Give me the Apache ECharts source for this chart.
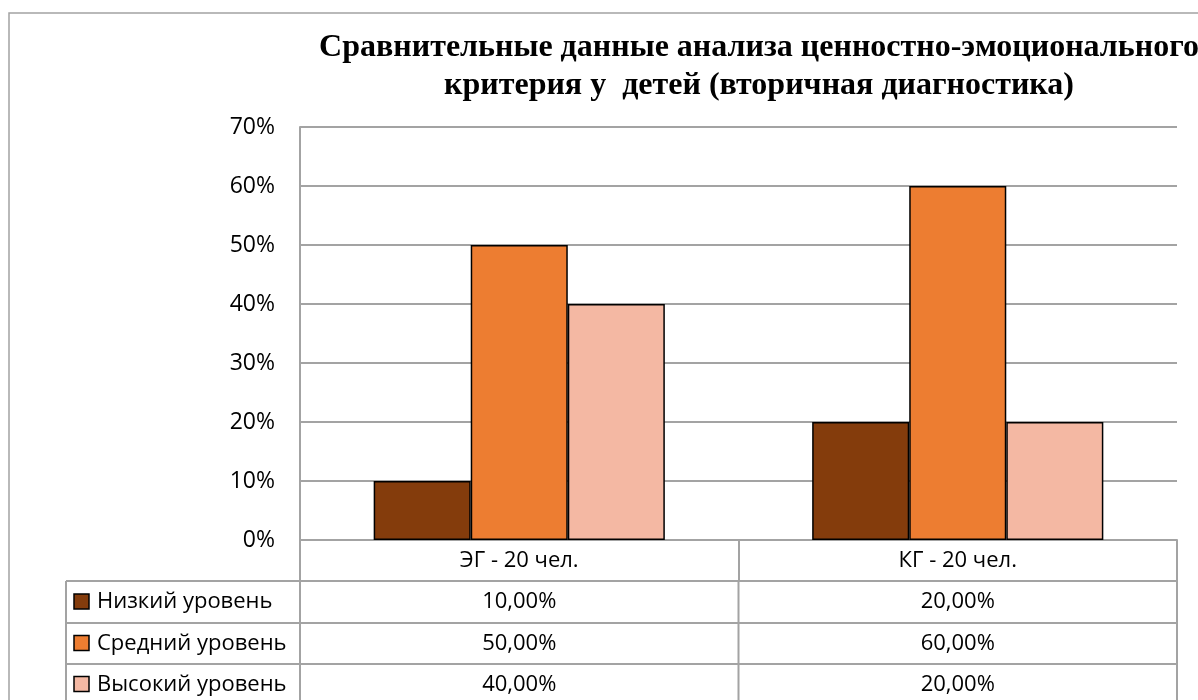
<!DOCTYPE html>
<html>
<head>
<meta charset="utf-8">
<script src="https://cdn.jsdelivr.net/npm/echarts@6/dist/echarts.min.js"></script>
<style>
html,body{margin:0;padding:0;background:#fff;}
#chart{width:1198px;height:700px;}
</style>
</head>
<body>
<div id="chart"></div>
<script>
var categories = ['ЭГ - 20 чел.', 'КГ - 20 чел.'];
var seriesNames = ['Низкий уровень', 'Средний уровень', 'Высокий уровень'];
var lowValues = [0.10, 0.20];
var midValues = [0.50, 0.60];
var highValues = [0.40, 0.20];
var yTicks = [0, 0.1, 0.2, 0.3, 0.4, 0.5, 0.6, 0.7];
var titleText = 'Сравнительные данные анализа ценностно-эмоционального\nкритерия у  детей (вторичная диагностика)';

var colors = ['#843C0C', '#ED7D31', '#F4B8A3'];
var gray = '#a3a3a3';
var sans = '"Open Sans", "Noto Sans", sans-serif';
var fs = 22;
var axisFs = 23;

var seriesValues = [lowValues, midValues, highValues];

function pct(v) { return Math.round(v * 100) + '%'; }
function pct2(v) { return (v * 100).toFixed(2).replace('.', ',') + '%'; }

var chart = echarts.init(document.getElementById('chart'), null, {renderer: 'canvas'});

var gridLeft = 300, gridRight = 21, gridTop = 127, gridBottom = 160;

var option = {
  animation: false,
  backgroundColor: '#fff',
  color: colors,
  title: {
    text: titleText,
    left: 754,
    top: 24,
    textAlign: 'center',
    textStyle: {
      fontFamily: '"Liberation Serif", "Times New Roman", serif',
      fontWeight: 'bold',
      fontSize: 32,
      lineHeight: 38,
      color: '#000'
    }
  },
  grid: {left: gridLeft, right: gridRight, top: gridTop, bottom: gridBottom, containLabel: false},
  xAxis: {
    type: 'category',
    data: categories,
    axisLine: {show: true, lineStyle: {color: gray, width: 2}},
    axisTick: {show: true, length: 41, lineStyle: {color: gray, width: 2}},
    axisLabel: {fontFamily: sans, fontSize: fs, color: '#000', margin: 10},
    splitLine: {show: false}
  },
  yAxis: {
    type: 'value',
    min: yTicks[0],
    max: yTicks[yTicks.length - 1],
    interval: 0.1,
    axisLine: {show: true, lineStyle: {color: gray, width: 2}},
    axisTick: {show: false},
    axisLabel: {fontFamily: sans, fontSize: axisFs, color: '#000', margin: 25, formatter: function (v) { return pct(v); }},
    splitLine: {show: true, lineStyle: {color: gray, width: 2}}
  },
  series: seriesNames.map(function (name, i) {
    return {
      name: name,
      type: 'bar',
      data: seriesValues[i],
      barGap: '0%',
      barCategoryGap: '33.6%',
      itemStyle: {color: colors[i], borderColor: '#000', borderWidth: 1.5}
    };
  })
};

chart.setOption(option);

// Data table (drawn below the axis, text taken from the data arrays)
var rowTops = [581, 623, 664, 705];
var tableLeft = 66;
var plotRight = 1198 - gridRight;
var lineStyle = {stroke: gray, lineWidth: 2};
var g = [];
// outer chart border (clipped by the viewport on the right/bottom)
g.push({type: 'rect', shape: {x: 9, y: 13, width: 1300, height: 800}, style: {fill: null, stroke: gray, lineWidth: 1.5}, silent: true, z: -1});
// horizontal table lines
for (var r = 0; r < rowTops.length; r++) {
  g.push({type: 'line', shape: {x1: tableLeft, y1: rowTops[r], x2: plotRight + 1, y2: rowTops[r]}, style: lineStyle, silent: true});
}
// vertical table lines
var xBounds = [gridLeft];
var half = (plotRight - gridLeft) / categories.length / 2;
for (var c = 0; c < categories.length; c++) {
  var cx = chart.convertToPixel({xAxisIndex: 0}, categories[c]);
  xBounds.push(cx + half);
}
g.push({type: 'line', shape: {x1: tableLeft, y1: rowTops[0], x2: tableLeft, y2: 710}, style: lineStyle, silent: true});
xBounds.forEach(function (xb) {
  g.push({type: 'line', shape: {x1: xb, y1: rowTops[0], x2: xb, y2: 710}, style: lineStyle, silent: true});
});
// legend keys and cell values
for (var s = 0; s < seriesNames.length; s++) {
  var cy = (rowTops[s] + rowTops[s + 1]) / 2;
  g.push({type: 'rect', shape: {x: 74, y: cy - 8, width: 15, height: 15}, style: {fill: colors[s], stroke: '#000', lineWidth: 1.5}, silent: true});
  g.push({type: 'text', x: 97, y: cy, style: {text: seriesNames[s], fontFamily: sans, fontSize: fs, fill: '#000', align: 'left', verticalAlign: 'middle'}, silent: true});
  for (var k = 0; k < categories.length; k++) {
    var px = chart.convertToPixel({xAxisIndex: 0}, categories[k]);
    g.push({
      type: 'text',
      x: px,
      y: cy,
      style: {text: pct2(seriesValues[s][k]), fontFamily: sans, fontSize: fs, fill: '#000', align: 'center', verticalAlign: 'middle'},
      silent: true
    });
  }
}
chart.setOption({graphic: g});
</script>
</body>
</html>
